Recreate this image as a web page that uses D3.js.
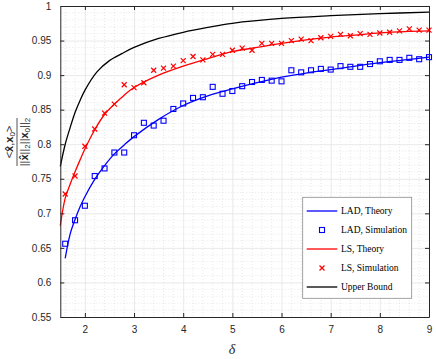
<html>
<head>
<title>LAD vs LS</title>
<script type="text/javascript" src="https://cdn.jsdelivr.net/npm/d3@7/dist/d3.min.js"></script>
<style type="text/css">
body { margin:0; background:white; }
.tick text { font-family: "Liberation Sans", Arial, sans-serif; font-size:10px; fill:#262626; }
.legend text { font-family: "Liberation Serif", "Times New Roman", serif; font-size:9.5px; fill:#000; }
</style>
</head>
<body>
<script>

  // simulation deltas (0.2 steps)
  var simDelta = [1.6,1.8,2.0,2.2,2.4,2.6,2.8,3.0,3.2,3.4,3.6,3.8,4.0,4.2,4.4,4.6,4.8,5.0,5.2,5.4,
                  5.6,5.8,6.0,6.2,6.4,6.6,6.8,7.0,7.2,7.4,7.6,7.8,8.0,8.2,8.4,8.6,8.8,9.0];
  var ladSim = [0.656,0.690,0.711,0.754,0.765,0.788,0.788,0.813,0.831,0.827,0.834,0.851,0.859,0.867,0.868,0.883,0.873,0.877,0.884,0.890,
                0.893,0.892,0.891,0.907,0.904,0.907,0.909,0.908,0.913,0.912,0.912,0.916,0.920,0.922,0.922,0.925,0.923,0.926];
  var lsSim = [0.728,0.754,0.797,0.822,0.845,0.858,0.886,0.882,0.889,0.907,0.910,0.913,0.921,0.927,0.922,0.930,0.930,0.936,0.939,0.936,
               0.946,0.946,0.946,0.950,0.952,0.950,0.954,0.956,0.959,0.957,0.960,0.959,0.961,0.962,0.964,0.967,0.965,0.965];

  // theory curves
  var ladDelta = [1.6,1.7,1.8,1.9,2.0,2.2,2.4,2.6,2.8,3.0,3.5,4.0,4.5,5.0,5.5,6.0,6.5,7.0,7.5,8.0,8.5,9.0];
  var ladTheory = [0.635,0.670,0.691,0.709,0.724,0.749,0.769,0.786,0.799,0.811,0.836,0.856,0.870,0.880,0.889,0.897,0.903,0.908,0.913,0.918,0.922,0.926];
  var lsDelta = [1.5,1.6,1.7,1.8,1.9,2.0,2.2,2.4,2.6,2.8,3.0,3.5,4.0,4.5,5.0,5.5,6.0,6.5,7.0,7.5,8.0,8.5,9.0];
  var lsTheory = [0.682,0.722,0.742,0.760,0.777,0.793,0.821,0.843,0.858,0.871,0.882,0.900,0.913,0.924,0.934,0.940,0.946,0.951,0.955,0.958,0.961,0.963,0.964];
  var ubDelta = [1.5,1.6,1.7,1.8,1.9,2.0,2.25,2.5,2.75,3.0,3.5,4.0,4.5,5.0,6.0,7.0,8.0,9.0];
  var ubTheory = [0.768,0.800,0.824,0.846,0.863,0.878,0.905,0.921,0.931,0.940,0.953,0.962,0.969,0.975,0.982,0.986,0.989,0.991];

  var xTicks = [2,3,4,5,6,7,8,9];
  var yTicks = [0.55,0.6,0.65,0.7,0.75,0.8,0.85,0.9,0.95,1];

  var legendItems = [{name:"LAD, Theory",type:"line",color:"#0000ff"},
                     {name:"LAD, Simulation",type:"square",color:"#0000ff"},
                     {name:"LS, Theory",type:"line",color:"#ff0000"},
                     {name:"LS, Simulation",type:"cross",color:"#ff0000"},
                     {name:"Upper Bound",type:"line",color:"#000000"}];

  var W = 436, H = 359,
      pL = 60.3, pR = 429, pT = 6, pB = 317;

  var svg = d3.select("body").append("svg").attr("width",W).attr("height",H);

  var x = d3.scaleLinear().domain([1.5,9]).range([pL,pR]);
  var y = d3.scaleLinear().domain([0.55,1]).range([pB,pT]);

  // minor grid (dotted)
  var minorX = d3.range(16,90,2).map(function(d){ return d/10; }).filter(function(d){ return d%1 != 0; });
  var minorY = d3.range(56,100,1).map(function(d){ return d/100; }).filter(function(d){ return Math.round(d*100)%5 != 0; });

  svg.selectAll(".mx").data(minorX).enter().append("line")
    .attr("x1",function(d){ return x(d);}).attr("x2",function(d){ return x(d);})
    .attr("y1",pT).attr("y2",pB)
    .attr("stroke","#d6d6d6").attr("stroke-width",0.6).attr("stroke-dasharray","1,2");
  svg.selectAll(".my").data(minorY).enter().append("line")
    .attr("y1",function(d){ return y(d);}).attr("y2",function(d){ return y(d);})
    .attr("x1",pL).attr("x2",pR)
    .attr("stroke","#d6d6d6").attr("stroke-width",0.6).attr("stroke-dasharray","1,2");

  // major grid
  svg.append("g").attr("transform","translate(0,"+pB+")")
    .call(d3.axisBottom(x).tickValues(xTicks).tickSize(-(pB-pT)).tickFormat(""))
    .call(function(g){ g.select(".domain").remove(); g.selectAll("line").attr("stroke","#e3e3e3").attr("stroke-width",0.8); });
  svg.append("g").attr("transform","translate("+pL+",0)")
    .call(d3.axisLeft(y).tickValues(yTicks).tickSize(-(pR-pL)).tickFormat(""))
    .call(function(g){ g.select(".domain").remove(); g.selectAll("line").attr("stroke","#e3e3e3").attr("stroke-width",0.8); });

  // theory lines
  var line = d3.line().curve(d3.curveCatmullRom);
  function pts(xs,ys){ return xs.map(function(d,i){ return [x(d),y(ys[i])]; }); }

  svg.append("path").attr("d",line(pts(ubDelta,ubTheory))).attr("fill","none").attr("stroke","#000").attr("stroke-width",1.3);
  svg.append("path").attr("d",line(pts(lsDelta,lsTheory))).attr("fill","none").attr("stroke","#ff0000").attr("stroke-width",1.3);
  svg.append("path").attr("d",line(pts(ladDelta,ladTheory))).attr("fill","none").attr("stroke","#0000ff").attr("stroke-width",1.3);

  // simulation markers
  svg.selectAll(".sq").data(simDelta).enter().append("rect")
    .attr("x",function(d){ return x(d)-2.5;}).attr("y",function(d,i){ return y(ladSim[i])-2.5;})
    .attr("width",5).attr("height",5).attr("fill","none").attr("stroke","#0000ff").attr("stroke-width",1.1);

  var crossPath = "M-2.5,-2.5L2.5,2.5M-2.5,2.5L2.5,-2.5";
  svg.selectAll(".cr").data(simDelta).enter().append("path")
    .attr("transform",function(d,i){ return "translate("+x(d)+","+y(lsSim[i])+")";})
    .attr("d",crossPath).attr("stroke","#ff0000").attr("stroke-width",1.2);

  // axes box
  var ax = "#262626";
  svg.append("g").attr("transform","translate(0,"+pB+")")
    .call(d3.axisBottom(x).tickValues(xTicks).tickSizeInner(-4).tickSizeOuter(0).tickPadding(9).tickFormat(d3.format("d")))
    .call(function(g){ g.select(".domain").attr("stroke",ax); g.selectAll("line").attr("stroke",ax); });
  svg.append("g").attr("transform","translate(0,"+pT+")")
    .call(d3.axisTop(x).tickValues(xTicks).tickSizeInner(-4).tickSizeOuter(0).tickFormat(""))
    .call(function(g){ g.select(".domain").attr("stroke",ax); g.selectAll("line").attr("stroke",ax); });
  svg.append("g").attr("transform","translate("+pL+",0)")
    .call(d3.axisLeft(y).tickValues(yTicks).tickSizeInner(-4).tickSizeOuter(0).tickPadding(9).tickFormat(function(d){ return String(+d.toFixed(2)); }))
    .call(function(g){ g.select(".domain").attr("stroke",ax); g.selectAll("line").attr("stroke",ax); });
  svg.append("g").attr("transform","translate("+pR+",0)")
    .call(d3.axisRight(y).tickValues(yTicks).tickSizeInner(-4).tickSizeOuter(0).tickFormat(""))
    .call(function(g){ g.select(".domain").attr("stroke",ax); g.selectAll("line").attr("stroke",ax); });

  // x label
  svg.append("text").text("δ").attr("x",232).attr("y",354).attr("text-anchor","middle")
    .attr("font-family","Liberation Serif, serif").attr("font-style","italic").attr("font-size",14).attr("fill","#262626");

  // y label (fraction)
  var yl = svg.append("g").attr("transform","translate(17,142) rotate(-90)")
    .attr("font-family","Liberation Sans, Arial, sans-serif").attr("fill","#262626");
  var num = yl.append("text").attr("x",0).attr("y",-4).attr("text-anchor","middle").attr("font-size",11).attr("fill","#262626");
  num.append("tspan").text("<");
  num.append("tspan").text("x̂").attr("font-weight","bold");
  num.append("tspan").text(",");
  num.append("tspan").text("x").attr("font-weight","bold");
  num.append("tspan").text("0").attr("font-size",8).attr("dy",2);
  num.append("tspan").text(">").attr("dy",-2);
  yl.append("line").attr("x1",-24).attr("x2",24).attr("y1",0).attr("y2",0).attr("stroke","#262626").attr("stroke-width",0.8);
  var den = yl.append("text").attr("x",0).attr("y",10.5).attr("text-anchor","middle").attr("font-size",11).attr("fill","#262626");
  den.append("tspan").text("||");
  den.append("tspan").text("x̂").attr("font-weight","bold");
  den.append("tspan").text("||");
  den.append("tspan").text("2").attr("font-size",8).attr("dy",2);
  den.append("tspan").text("||").attr("dy",-2);
  den.append("tspan").text("x").attr("font-weight","bold");
  den.append("tspan").text("0").attr("font-size",8).attr("dy",2);
  den.append("tspan").text("||").attr("dy",-2);
  den.append("tspan").text("2").attr("font-size",8).attr("dy",2);

  // legend
  var lg = svg.append("g").attr("class","legend");
  lg.append("rect").attr("x",302.7).attr("y",197.3).attr("width",109).attr("height",101)
    .attr("fill","white").attr("stroke","#8a8a8a").attr("stroke-width",0.8);
  var rows = lg.selectAll(".row").data(legendItems).enter().append("g")
    .attr("transform",function(d,i){ return "translate(0,"+(211+i*19)+")";});
  rows.filter(function(d){ return d.type=="line";}).append("line")
    .attr("x1",306.7).attr("x2",337.3).attr("y1",0).attr("y2",0)
    .attr("stroke",function(d){ return d.color;}).attr("stroke-width",1.3);
  rows.filter(function(d){ return d.type=="square";}).append("rect")
    .attr("x",319.5).attr("y",-2.5).attr("width",5).attr("height",5)
    .attr("fill","none").attr("stroke",function(d){ return d.color;}).attr("stroke-width",1.1);
  rows.filter(function(d){ return d.type=="cross";}).append("path")
    .attr("transform","translate(322,0)").attr("d",crossPath)
    .attr("stroke",function(d){ return d.color;}).attr("stroke-width",1.2);
  rows.append("text").text(function(d){ return d.name;}).attr("x",341).attr("y",3.3);

</script>
</body>
</html>
